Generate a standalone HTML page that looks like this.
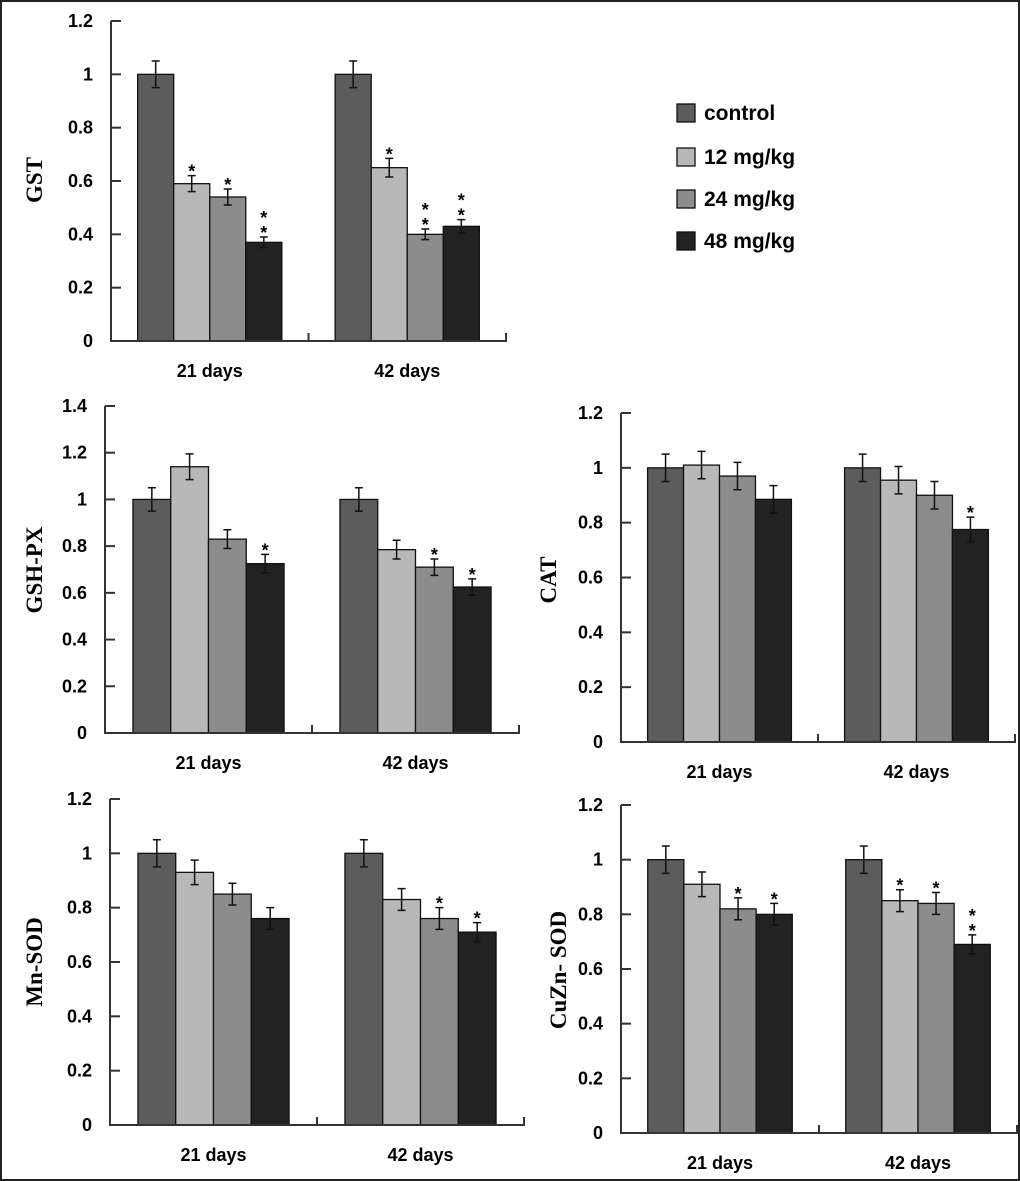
<!DOCTYPE html>
<html><head><meta charset="utf-8"><style>
html,body{margin:0;padding:0;background:#fff}
svg{display:block}
.tk{font-family:"Liberation Sans",sans-serif;font-weight:bold;font-size:18px;fill:#000}
.yt{font-family:"Liberation Serif",serif;font-weight:bold;font-size:23px;fill:#000}
.lg{font-family:"Liberation Sans",sans-serif;font-weight:bold;font-size:21px;fill:#000}
</style></head><body>
<svg id="fig" width="1020" height="1181" viewBox="0 0 1020 1181" xmlns="http://www.w3.org/2000/svg">
<rect x="1" y="1" width="1018" height="1179" fill="#fff" stroke="#222" stroke-width="2"/>
</svg>
<script>
const groups = ["21 days","42 days"];
const seriesNames = ["control","12 mg/kg","24 mg/kg","48 mg/kg"];
const colors = ["#5c5c5c","#b8b8b8","#8c8c8c","#222222"];
const gstVals = [[1,0.59,0.54,0.37],[1,0.65,0.40,0.43]];
const gstErr = [[0.05,0.03,0.03,0.02],[0.05,0.035,0.02,0.025]];
const gstStars = [["","*","*","**"],["","*","**","**"]];
const gshVals = [[1,1.14,0.83,0.725],[1,0.785,0.71,0.625]];
const gshErr = [[0.05,0.055,0.04,0.04],[0.05,0.04,0.035,0.035]];
const gshStars = [["","","","*"],["","","*","*"]];
const catVals = [[1,1.01,0.97,0.885],[1,0.955,0.90,0.775]];
const catErr = [[0.05,0.05,0.05,0.05],[0.05,0.05,0.05,0.045]];
const catStars = [["","","",""],["","","","*"]];
const mnVals = [[1,0.93,0.85,0.76],[1,0.83,0.76,0.71]];
const mnErr = [[0.05,0.045,0.04,0.04],[0.05,0.04,0.04,0.035]];
const mnStars = [["","","",""],["","","*","*"]];
const cuVals = [[1,0.91,0.82,0.80],[1,0.85,0.84,0.69]];
const cuErr = [[0.05,0.045,0.04,0.04],[0.05,0.04,0.04,0.035]];
const cuStars = [["","","*","*"],["","*","*","**"]];
const ticks12 = ["0","0.2","0.4","0.6","0.8","1","1.2"];
const ticks14 = ["0","0.2","0.4","0.6","0.8","1","1.2","1.4"];

const NS="http://www.w3.org/2000/svg";
const svg=document.getElementById('fig');
function mk(tag,attrs,parent){const e=document.createElementNS(NS,tag);for(const k in attrs)e.setAttribute(k,attrs[k]);(parent||svg).appendChild(e);return e;}

function panel(name,title,ax,xe,y0,ytop,max,ticks,vals,errs,stars,tx,ty){
  const g=mk('g',{});
  
  
  const ys=v=>y0-(y0-ytop)*v/max;
  const gw=(xe-ax)/groups.length, m=gw*0.135, bw=(gw-2*m)/4;
  groups.forEach((gn,gi)=>{
    vals[gi].forEach((v,si)=>{
      const x=ax+gi*gw+m+si*bw;
      const r=mk('rect',{x:x,y:ys(v),width:bw,height:y0-ys(v),fill:colors[si],stroke:'#111','stroke-width':1.3},g);
      
      
      const cx=x+bw/2,e=errs[gi][si];
      const eb=mk('path',{d:`M${cx},${ys(v+e)}V${ys(v-e)}M${cx-4},${ys(v+e)}H${cx+4}M${cx-4},${ys(v-e)}H${cx+4}`,stroke:'#111','stroke-width':1.5,fill:'none'},g);
      
      
      const s=stars[gi][si];
      for(let k=0;k<s.length;k++){
        const t=mk('text',{x:cx,y:ys(v+e)-6-(s.length-1-k)*15+8,'text-anchor':'middle','font-family':'Liberation Sans, sans-serif','font-weight':'bold','font-size':18},g);
        t.textContent='*';
        
        
      }
    });
    const lab=mk('text',{x:ax+gi*gw+gw/2,y:y0+36,'text-anchor':'middle',class:'tk'},g);
    lab.textContent=gn;
    
    
  });
  const axes=mk('path',{d:`M${ax},${ytop}V${y0}H${xe}V${y0-8}M${ax+gw},${y0}V${y0-8}`,stroke:'#333','stroke-width':2,fill:'none'},g);
  
  
  ticks.forEach(t=>{
    const y=ys(parseFloat(t));
    mk('path',{d:`M${ax},${y}H${ax+10}`,stroke:'#333','stroke-width':2},g);
    const tl=mk('text',{x:ax-18,y:y+6,'text-anchor':'end',class:'tk'},g);
    tl.textContent=t;
    
    
  });
  const yt=mk('text',{x:tx,y:ty,'text-anchor':'middle',class:'yt',transform:`rotate(-90 ${tx} ${ty})`},g);
  yt.textContent=title;
  
  
}
panel('gst','GST',111,506,341,21,1.2,ticks12,gstVals,gstErr,gstStars,42,180);
panel('gsh-px','GSH-PX',105,519,733,406,1.4,ticks14,gshVals,gshErr,gshStars,42,570);
panel('cat','CAT',621,1015,742,413,1.2,ticks12,catVals,catErr,catStars,556,580);
panel('mn-sod','Mn-SOD',110,524,1125,799,1.2,ticks12,mnVals,mnErr,mnStars,42,962);
panel('cuzn-sod','CuZn- SOD',621,1017,1133,805,1.2,ticks12,cuVals,cuErr,cuStars,566,970);

const legY=[113,157,199,241];
seriesNames.forEach((n,i)=>{
  const lg=mk('g',{});
  
  
  mk('rect',{x:677,y:legY[i]-9,width:18,height:18,fill:colors[i],stroke:'#111','stroke-width':1.3},lg);
  const t=mk('text',{x:704,y:legY[i]+7,class:'lg'},lg);
  t.textContent=n;
});
</script>
</body></html>
